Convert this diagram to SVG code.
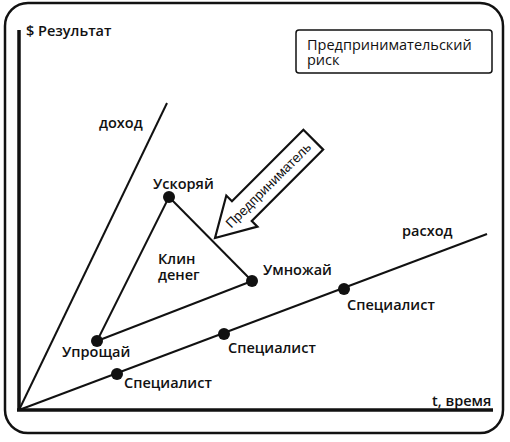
<svg xmlns="http://www.w3.org/2000/svg" width="510" height="442" viewBox="0 0 510 442">
<style>
.lbl{font-family:"Open Sans","Liberation Sans",sans-serif;font-weight:600;font-size:14.5px;fill:#111}
.line{stroke:#111;stroke-width:2;fill:none}
.axis{stroke:#111;stroke-width:3.5;fill:none}
.dot{fill:#111}
.norm{font-family:"Open Sans","Liberation Sans",sans-serif;font-size:14.5px;fill:#111}
</style>
<rect x="0" y="0" width="510" height="442" fill="#fff"/>
<rect id="frame" x="5" y="3" width="498" height="430" rx="23" fill="#fff" stroke="#111" stroke-width="2.5"/>
<g id="connectors">
<line class="axis" x1="19" y1="30" x2="19" y2="411"/>
<line class="axis" x1="17" y1="410" x2="493" y2="410"/>
<line class="line" x1="19" y1="410" x2="167" y2="103"/>
<line class="line" x1="19" y1="410" x2="487" y2="234"/>
<line class="line" x1="169" y1="197" x2="97" y2="341"/>
<line class="line" x1="169" y1="197" x2="252" y2="281"/>
<line class="line" x1="97" y1="341" x2="252" y2="281"/>
</g>
<g id="axis-y-label"><text class="lbl" x="26" y="36">$ Результат</text></g>
<g id="axis-x-label"><text class="lbl" x="432" y="406">t, время</text></g>
<g id="income"><text class="lbl" x="99" y="128">доход</text></g>
<g id="expense"><text class="lbl" x="402" y="236">расход</text></g>
<g id="wedge"><text class="lbl" x="158" y="264">Клин</text><text class="lbl" x="158" y="280">денег</text></g>
<g id="accelerate"><circle class="dot" cx="169" cy="197" r="6"/><text class="lbl" x="153" y="189">Ускоряй</text></g>
<g id="simplify"><circle class="dot" cx="97" cy="341" r="6"/><text class="lbl" x="62" y="357">Упрощай</text></g>
<g id="multiply"><circle class="dot" cx="252" cy="281" r="6"/><text class="lbl" x="263" y="275">Умножай</text></g>
<g id="spec1"><circle class="dot" cx="344" cy="289" r="6"/><text class="lbl" x="347" y="310">Специалист</text></g>
<g id="spec2"><circle class="dot" cx="224" cy="334" r="6"/><text class="lbl" x="228" y="353">Специалист</text></g>
<g id="spec3"><circle class="dot" cx="117" cy="374" r="6"/><text class="lbl" x="124" y="388">Специалист</text></g>
<g id="legend">
<rect x="296" y="30" width="196" height="43" rx="3" fill="#fff" stroke="#111" stroke-width="1.5"/>
<text class="norm" x="307" y="50">Предпринимательский</text>
<text class="norm" x="307" y="65">риск</text>
</g>
<g id="entrepreneur" transform="translate(215,238) rotate(-45)">
<polygon points="0,0 38,-22 38,-14 139,-14 139,14 38,14 38,22" fill="#fff" stroke="#111" stroke-width="2.2" stroke-linejoin="miter"/>
<text x="18" y="5" font-family="Liberation Sans, sans-serif" font-size="13.5" fill="#111">Предприниматель</text>
</g>
</svg>
